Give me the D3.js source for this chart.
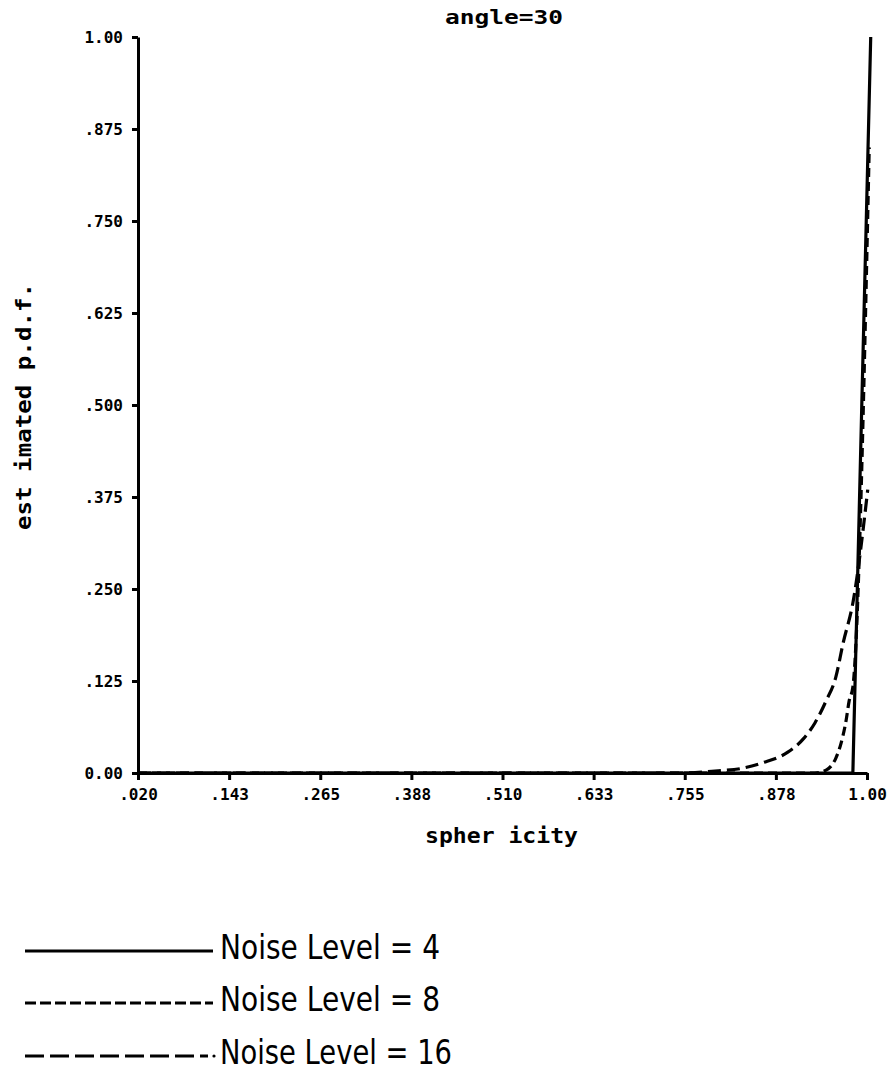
<!DOCTYPE html>
<html>
<head>
<meta charset="utf-8">
<script src="https://cdn.jsdelivr.net/npm/d3@7"></script>
<style>
  body { margin: 0; background: #fff; }
  text { fill: #000; }
</style>
</head>
<body>
<svg id="chart" width="891" height="1083"></svg>
<script>
// tick labels as printed on the plot
const xTickValues = [0.020, 0.1425, 0.265, 0.3875, 0.510, 0.6325, 0.755, 0.8775, 1.00]
const xTickLabels = [".020", ".143", ".265", ".388", ".510", ".633", ".755", ".878", "1.00"]
const yTickValues = [0, 0.125, 0.25, 0.375, 0.5, 0.625, 0.75, 0.875, 1.0]
const yTickLabels = ["0.00", ".125", ".250", ".375", ".500", ".625", ".750", ".875", "1.00"]

// series
const noiseLevels = [4, 8, 16]
const sphericity4 = [0.02, 0.981, 1.005]
const pdf4 = [0, 0, 1.0]
const sphericity8 = [0.02, 0.93, 0.945, 0.958, 0.965, 0.972, 0.976, 0.981, 1.003]
const pdf8 = [0, 0, 0.004, 0.02, 0.04, 0.072, 0.098, 0.117, 0.85]
const sphericity16 = [0.02, 0.755, 0.80, 0.83, 0.86, 0.893, 0.915, 0.93, 0.945, 0.958, 0.968, 0.981, 1.001]
const pdf16 = [0, 0, 0.003, 0.006, 0.014, 0.028, 0.047, 0.068, 0.098, 0.13, 0.177, 0.231, 0.385]

const svg = d3.select("#chart")
const width = 891

// define margins
const margin = {top: 37, right: 24, bottom: 310, left: 138}
const plotBottom = 773

// scales
const x = d3.scaleLinear()
  .domain([0.02, 1.0])
  .range([margin.left, width - margin.right])

const y = d3.scaleLinear()
  .domain([0, 1])
  .range([plotBottom, margin.top])

const series = [
  {xs: sphericity4, ys: pdf4, dash: null, curve: d3.curveLinear},
  {xs: sphericity8, ys: pdf8, dash: "9,5", curve: d3.curveMonotoneX},
  {xs: sphericity16, ys: pdf16, dash: "13,6", curve: d3.curveMonotoneX}
].map(s => ({dash: s.dash, curve: s.curve, pts: s.xs.map((v, i) => ({s: v, p: s.ys[i]}))}))

// draw curves
svg.selectAll(".curve")
  .data(series)
  .enter()
  .append("path")
    .attr("class", "curve")
    .attr("fill", "none")
    .attr("stroke", "#000")
    .attr("stroke-width", 3.2)
    .attr("stroke-dasharray", d => d.dash)
    .attr("d", d => d3.line()
      .x(p => x(p.s))
      .y(p => y(p.p))
      .curve(d.curve)(d.pts))

// axes
const yAxis = svg.append("g")
  .attr("transform", "translate(" + margin.left + ",0)")
  .call(d3.axisLeft(y)
    .tickValues(yTickValues)
    .tickFormat((d, i) => yTickLabels[i])
    .tickSize(6)
    .tickSizeOuter(0)
    .tickPadding(9))

const xAxis = svg.append("g")
  .attr("transform", "translate(0," + plotBottom + ")")
  .call(d3.axisBottom(x)
    .tickValues(xTickValues)
    .tickFormat((d, i) => xTickLabels[i])
    .tickSize(7)
    .tickSizeOuter(0)
    .tickPadding(6))

for (const g of [xAxis, yAxis]) {
  g.select(".domain").attr("stroke-width", 3).attr("stroke", "#000")
  g.selectAll(".tick line").attr("stroke-width", 3).attr("stroke", "#000")
  g.selectAll(".tick text")
    .attr("font-family", "DejaVu Sans Mono")
    .attr("font-weight", "bold")
    .attr("font-size", 16)
}
xAxis.selectAll(".tick text").attr("dy", "0.85em")

// titles
svg.append("text")
  .attr("x", 445).attr("y", 24)
  .attr("font-family", "DejaVu Sans Mono")
  .attr("font-weight", "bold")
  .attr("font-size", 19)
  .attr("textLength", 118)
  .attr("lengthAdjust", "spacingAndGlyphs")
  .text("angle=30")

svg.append("text")
  .attr("x", 425).attr("y", 843)
  .attr("font-family", "DejaVu Sans Mono")
  .attr("font-weight", "bold")
  .attr("font-size", 21)
  .attr("textLength", 153)
  .attr("lengthAdjust", "spacingAndGlyphs")
  .text("spher icity")

svg.append("text")
  .attr("transform", "translate(31,530)rotate(-90)")
  .attr("font-family", "DejaVu Sans Mono")
  .attr("font-weight", "bold")
  .attr("font-size", 22)
  .attr("textLength", 247)
  .attr("lengthAdjust", "spacingAndGlyphs")
  .text("est imated p.d.f.")

// legend
const legendY = [951, 1003, 1056]
const legendDash = [null, "11,4", "19,6"]
const legend = svg.selectAll(".legend")
  .data(noiseLevels)
  .enter()
  .append("g")
    .attr("class", "legend")
    .attr("transform", (d, i) => "translate(0," + legendY[i] + ")")

legend.append("line")
  .attr("x1", 25).attr("x2", (d, i) => i === 2 ? 208 : 213)
  .attr("y1", 0).attr("y2", 0)
  .attr("stroke", "#000")
  .attr("stroke-width", 3)
  .attr("stroke-dasharray", (d, i) => legendDash[i])

legend.filter((d, i) => i === 2)
  .append("circle")
    .attr("cx", 214).attr("cy", 0).attr("r", 1.6)
    .attr("fill", "#000")

legend.append("text")
  .attr("x", 220).attr("y", 8)
  .attr("font-family", "DejaVu Sans")
  .attr("font-size", 34)
  .attr("textLength", (d, i) => i === 2 ? 232 : 220)
  .attr("lengthAdjust", "spacingAndGlyphs")
  .text(d => "Noise Level = " + d)
</script>
</body>
</html>
